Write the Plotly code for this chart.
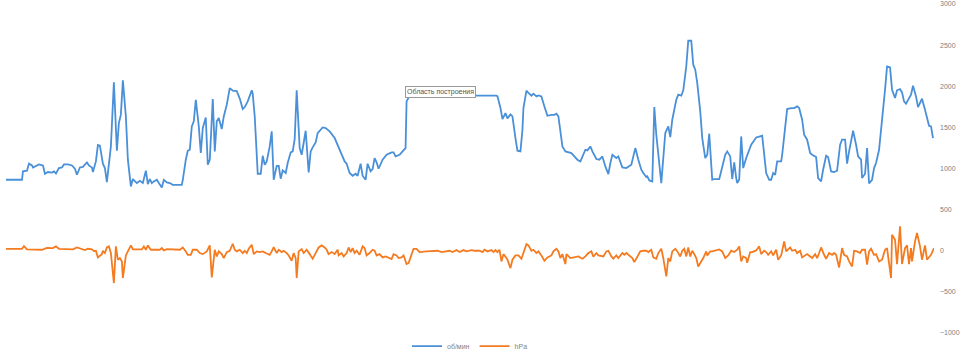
import plotly.graph_objects as go

# time stamps (s) and engine speed (об/мин)
rpm_t = [6,22,23,27,29,32,33,37,39,43,45,48,52,54,56,59,62,64,68,72,75,77,80,83,87,89,92,93,96,98,
         100,103,105,107,111,114,117,119,121,123,126,128,131,133,135,137,140,143,146,148,150,152,154,157,159,162,164,167,170,173,
         182,183,186,188,190,192,194,196,199,201,203,206,208,210,213,215,217,219,222,224,227,230,233,237,
         240,243,245,248,252,253,255,258,261,263,265,267,270,272,274,277,279,281,283,286,288,291,293,295,297,300,302,306,309,311,
         313,316,318,323,326,330,335,340,345,347,350,353,356,358,361,363,366,368,371,373,375,377,379,383,387,392,394,396,400,403,
         406,407,410,440,474,
         480,497,498,501,503,506,508,511,513,516,518,521,523,524,527,529,532,534,537,539,542,545,548,552,555,557,559,561,563,566,
         572,575,578,581,583,586,588,591,593,597,600,603,606,609,611,613,617,619,623,627,632,636,639,642,644,647,648,650,653,655,
         657,662,666,669,671,673,677,679,682,684,687,689,692,694,696,698,701,703,706,708,710,713,715,
         720,724,726,728,731,733,735,737,738,740,742,744,747,752,757,763,764,767,770,772,774,776,778,782,783,786,788,792,795,798,
         800,803,805,808,811,813,817,819,822,824,827,829,832,835,838,841,843,846,848,850,854,857,859,862,863,866,868,870,873,875,
         877,880,883,886,888,891,893,896,898,901,903,905,907,910,912,914,917,919,922,923,926,928,930,932,934]
rpm = [863,863,965,973,1058,1037,1013,1037,1050,1037,936,957,950,965,940,1005,1013,1050,1050,1037,997,924,1013,1020,1074,1037,1013,957,1086,1285,
       1277,1058,1005,835,1268,2047,1216,1553,1655,2071,1633,1107,782,872,843,823,851,823,973,811,872,823,843,863,823,770,863,831,823,802,
       802,863,1107,1216,1228,1512,1573,1836,1512,1188,1492,1621,1046,1107,1844,1208,1573,1613,1480,1633,1775,1978,1946,1942,
       1850,1723,1747,1816,1950,1910,1633,936,936,1155,1046,1086,1268,1451,863,1033,1033,876,977,945,1066,1196,1208,1358,1950,1248,1167,1459,952,1208,
       1257,1317,1431,1500,1492,1451,1370,1228,1086,1058,945,912,936,912,1058,912,863,1058,965,993,1127,1074,997,1107,1167,1196,1196,1147,1167,1208,
       1248,1816,1885,1890,1893,
       1885,1885,1877,1735,1601,1674,1609,1657,1633,1370,1216,1208,1471,1735,1946,1918,1885,1910,1877,1889,1877,1755,1641,1653,1653,1666,1633,1451,1268,1208,
       1188,1147,1107,1086,1147,1228,1220,1268,1208,1115,1107,1147,1025,932,1066,1167,1127,1147,1013,1005,1046,1248,1107,985,945,896,904,855,843,1747,
       1411,823,1431,1512,1382,1593,1836,1897,1885,1950,2241,2553,2553,2262,2201,2039,1694,1370,1127,1167,1423,863,872,
       872,1066,1167,1208,1147,872,1074,884,823,863,1390,1005,1127,1289,1378,1398,1268,945,863,863,945,924,1086,1086,1167,1512,1723,1735,1735,1755,
       1735,1593,1411,1350,1188,1167,1139,884,843,985,1155,1139,965,957,973,1289,1350,1350,1058,1208,1459,1289,1147,1107,884,936,1248,818,863,1005,
       1066,1228,1553,1958,2241,2229,1958,1857,1950,1966,1925,1816,1788,1844,1897,2006,1876,1747,1816,1848,1714,1613,1520,1512,1370]

# time stamps (s) and pressure (hPa)
hpa_t = [6,22,24,27,42,47,53,56,59,73,77,82,85,88,92,94,96,98,102,103,105,107,109,111,114,116,118,120,122,123,
         126,128,131,133,142,144,146,148,151,160,162,164,167,180,183,186,188,191,193,197,200,203,207,210,212,215,217,219,222,224,
         227,230,233,235,237,240,
         243,245,247,249,252,254,257,260,263,266,270,272,274,277,279,282,284,287,289,292,294,296,297,299,302,304,307,310,313,316,
         319,322,325,327,329,332,335,338,339,342,344,347,349,351,353,355,357,360,363,365,367,370,373,375,377,380,383,386,389,392,
         394,397,399,402,404,407,409,412,414,417,420,427,433,438,442,447,450,453,457,460,464,467,472,475,480,
         483,485,488,492,494,496,498,500,502,504,507,508,511,513,516,519,522,524,527,529,532,534,537,539,542,545,548,552,554,557,
         559,561,563,566,567,571,575,579,583,586,589,592,594,597,599,602,604,607,609,612,614,617,619,623,625,627,630,633,635,638,
         641,644,647,649,652,654,657,659,662,664,667,669,671,673,676,678,681,683,685,687,689,691,693,695,697,699,702,704,707,708,
         711,713,720,
         723,726,729,732,735,738,740,742,744,747,748,751,753,757,760,762,765,767,769,772,774,777,779,782,785,787,791,793,796,798,
         801,803,806,808,811,813,816,818,820,822,825,827,830,833,835,837,840,843,845,848,850,853,855,858,861,863,866,868,870,872,
         875,877,880,883,886,888,890,892,893,896,898,901,903,906,908,910,912,913,916,918,921,923,926,928,932,935]
hpa = [24,24,57,16,12,36,32,53,24,16,40,16,8,24,16,-4,0,-81,-41,0,-28,40,53,-28,-393,53,-109,-89,-130,-332,
       -57,-8,65,16,16,53,12,65,12,12,32,4,20,12,40,-8,-49,-49,12,12,-28,-41,-8,65,-324,12,-69,-8,-41,-89,
       -16,0,85,12,-8,12,
       -28,0,-28,24,73,-41,-8,-16,-8,-28,-49,-8,45,-28,12,-16,0,-28,-57,-122,-28,-89,-332,-8,20,-28,12,-41,-97,-28,
       40,65,40,12,-41,-16,-41,12,-57,-28,-69,-28,40,-16,32,-28,0,-49,53,32,-57,-28,12,0,-57,-41,-81,-69,-89,-101,
       -41,-57,-89,-81,-57,-162,-150,-41,24,24,-16,-8,-8,0,-16,-8,0,-16,8,-16,8,-8,8,0,0,
       -16,12,-8,8,-16,8,-16,12,-130,-41,-89,-109,-211,-109,-57,-57,-97,-16,81,65,0,12,-28,-8,-57,-122,-81,-57,-8,24,
       -8,-89,-41,-162,-41,-89,-81,-69,-97,-69,-28,-8,-73,-28,-57,-69,-69,-8,0,-69,-97,-57,-89,-28,-49,-28,-57,-89,-138,-69,
       -8,0,0,-16,12,-81,-97,-28,24,-89,-312,-89,-130,-8,24,-8,-69,0,24,-69,40,-69,0,-41,-89,-191,-130,-89,-8,-57,
       -8,-8,16,
       -8,-89,-57,0,-16,12,53,-130,-69,-89,-146,-16,-16,4,53,-41,0,-16,-49,-8,-57,12,-109,-57,113,-8,40,0,12,-28,
       0,-81,-57,-41,-69,-89,-41,-89,-28,40,-49,-97,-28,-49,-28,-49,-203,32,-49,-69,-130,-191,0,-8,-28,12,12,-170,-8,24,
       -49,-41,-130,-109,12,32,-150,-332,195,134,-162,296,-162,32,65,-162,32,-130,113,215,53,-109,65,-109,-49,32]

y_ticks = [-1000, -500, 0, 500, 1000, 1500, 2000, 2500, 3000]
series_names = ["об/мин", "hPa"]
tooltip_text = "Область построения"

BLUE = "#4A90D9"
ORANGE = "#F47B20"
GREY = "#7F7F7F"

fig = go.Figure()
fig.add_trace(go.Scatter(x=rpm_t, y=rpm, mode="lines", name=series_names[0],
                         line=dict(color=BLUE, width=1.8)))
fig.add_trace(go.Scatter(x=hpa_t, y=hpa, mode="lines", name=series_names[1],
                         line=dict(color=ORANGE, width=1.8)))

fig.add_annotation(x=441, y=1925, xref="x", yref="y", text=tooltip_text, showarrow=False,
                   font=dict(family="Liberation Sans, Arial", size=7, color="#555555"),
                   bgcolor="white", bordercolor="#9a9a9a", borderwidth=1, borderpad=1)

fig.update_layout(
    width=960, height=352,
    margin=dict(l=6, r=26, t=4, b=19, autoexpand=False),
    paper_bgcolor="white", plot_bgcolor="white",
    font=dict(family="Liberation Sans, Arial", size=7, color=GREY),
    showlegend=True,
    legend=dict(orientation="h", x=0.5, xanchor="center", y=-0.04, yanchor="middle",
                font=dict(size=7, color=GREY), bgcolor="rgba(0,0,0,0)",
                itemwidth=30, tracegroupgap=0),
    xaxis=dict(visible=False, range=[6, 935]),
    yaxis=dict(side="right", range=[-1000, 3000], tickvals=y_ticks,
               showgrid=False, zeroline=False, showline=False, ticks="",
               ticklabelstandoff=5, tickfont=dict(size=7, color=GREY)),
)

fig.write_html("out.html")
